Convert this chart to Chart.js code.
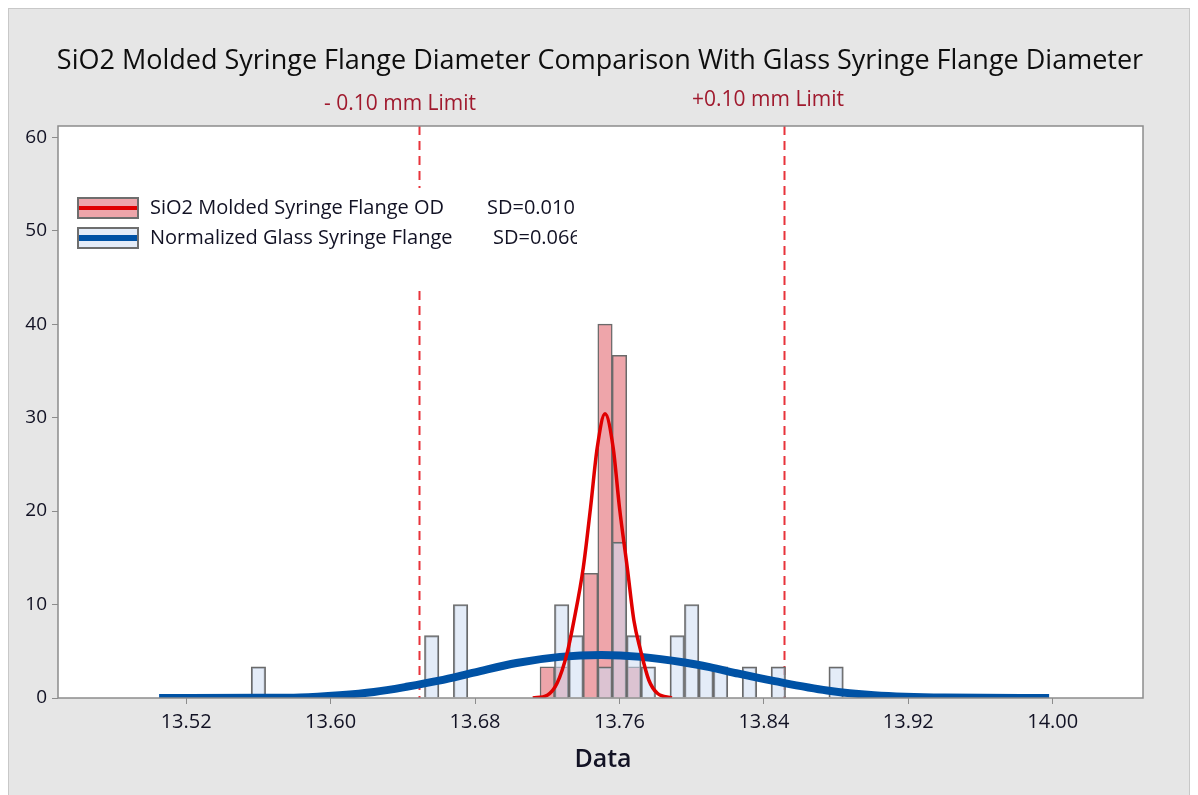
<!DOCTYPE html>
<html>
<head>
<meta charset="utf-8">
<script src="https://cdn.jsdelivr.net/npm/chart.js@4.4.1/dist/chart.umd.min.js"></script>
<style>
  html, body { margin: 0; padding: 0; background: #fff; }
  canvas { display: block; }
</style>
</head>
<body>
<canvas id="histChart" width="1198" height="795"></canvas>
<script>
// histogram bins (bin centres, width 0.008) and percent per bin
const sio2Bins = [13.720, 13.728, 13.744, 13.752, 13.760, 13.768];
const sio2Pct = [3.33, 3.33, 13.33, 40.0, 36.67, 3.33];

const glassBins = [13.560, 13.656, 13.672, 13.728, 13.736, 13.752, 13.760, 13.768,
                   13.776, 13.792, 13.800, 13.808, 13.816, 13.832, 13.848, 13.880];
const glassPct = [3.33, 6.67, 10.0, 10.0, 6.67, 3.33, 16.67, 6.67,
                  3.33, 6.67, 10.0, 3.33, 3.33, 3.33, 3.33, 3.33];

// fitted curves
const sio2FitX = [13.712, 13.720, 13.7255, 13.731, 13.7347, 13.740, 13.744, 13.7477, 13.752,
                  13.7565, 13.760, 13.7643, 13.768, 13.7717, 13.7763, 13.781, 13.789];
const sio2FitY = [0, 0.3, 1.6, 4.8, 8.2, 14.0, 20.4, 26.8, 30.4,
                  26.8, 20.4, 14.0, 8.3, 5.1, 1.9, 0.5, 0];

const glassFitX = [13.505, 13.560, 13.583, 13.605, 13.624, 13.642, 13.660, 13.680, 13.703,
                   13.727, 13.750, 13.772, 13.796, 13.810, 13.826, 13.846, 13.875, 13.901, 13.940, 13.998];
const glassFitY = [0, 0.02, 0.06, 0.3, 0.65, 1.2, 1.85, 2.75, 3.75,
                   4.4, 4.6, 4.4, 3.8, 3.3, 2.6, 1.8, 0.8, 0.3, 0.05, 0];

const limitX = [13.649, 13.851];
const limitLabels = ['- 0.10 mm Limit', '+0.10 mm Limit'];

const xTicks = [13.52, 13.60, 13.68, 13.76, 13.84, 13.92, 14.00];
const yTicks = [0, 10, 20, 30, 40, 50, 60];

const titleText = 'SiO2 Molded Syringe Flange Diameter Comparison With Glass Syringe Flange Diameter';
const legendNames = ['SiO2 Molded Syringe Flange OD', 'Normalized Glass Syringe Flange'];
const legendSD = ['SD=0.010', 'SD=0.066'];

const FONT = '"Open Sans", "Noto Sans", sans-serif';
const pinkFill = 'rgba(238,165,170,1)';
const glassFill = 'rgba(205,220,242,0.55)';
const redLine = '#e00000';
const blueLine = '#0052a5';
const limitRed = '#e8333b';
const labelRed = '#a01a2e';
const textDark = '#121224';

const pts = (xs, ys) => xs.map((x, i) => ({ x: x, y: ys[i] }));

const decor = {
    id: 'decor',
    beforeDraw(chart) {
        const ctx = chart.ctx;
        const a = chart.chartArea;
        ctx.save();
        ctx.fillStyle = '#ffffff';
        ctx.fillRect(0, 0, chart.width, chart.height);
        ctx.fillStyle = '#e6e6e6';
        ctx.fillRect(8, 8, 1182, 800);
        ctx.strokeStyle = '#c8c8c8';
        ctx.lineWidth = 1;
        ctx.strokeRect(8.5, 8.5, 1181, 800);
        ctx.fillStyle = '#ffffff';
        ctx.fillRect(a.left, a.top, a.right - a.left, a.bottom - a.top);
        ctx.restore();
    },
    beforeDatasetsDraw(chart) {
        const ctx = chart.ctx;
        const a = chart.chartArea;
        const xs = chart.scales.x;
        ctx.save();
        ctx.strokeStyle = limitRed;
        ctx.lineWidth = 2;
        ctx.setLineDash([9, 6]);
        limitX.forEach(v => {
            const px = Math.round(xs.getPixelForValue(v)) + 0.5;
            ctx.beginPath();
            ctx.moveTo(px, a.top);
            ctx.lineTo(px, a.bottom);
            ctx.stroke();
        });
        ctx.restore();
    },
    afterDatasetsDraw(chart) {
        const ctx = chart.ctx;
        const a = chart.chartArea;
        ctx.save();

        // legend box (white, hides the limit line behind it)
        ctx.fillStyle = '#ffffff';
        ctx.fillRect(70, 188, 510, 97);
        ctx.beginPath();
        ctx.rect(70, 188, 507, 97);
        ctx.clip();
        const rows = [
            { y: 208, fill: pinkFill, line: redLine, sdX: 487 },
            { y: 238, fill: 'rgb(228,236,248)', line: blueLine, sdX: 493 }
        ];
        rows.forEach((r, i) => {
            ctx.fillStyle = r.fill;
            ctx.fillRect(78, r.y - 10, 60, 20);
            ctx.strokeStyle = '#6e6e6e';
            ctx.lineWidth = 2;
            ctx.strokeRect(78, r.y - 10, 60, 20);
            ctx.fillStyle = r.line;
            ctx.fillRect(79, r.y - (i === 0 ? 2 : 3), 58, i === 0 ? 4 : 6);
            ctx.fillStyle = textDark;
            ctx.font = '20px ' + FONT;
            ctx.textBaseline = 'middle';
            ctx.textAlign = 'left';
            ctx.fillText(legendNames[i], 150, r.y);
            ctx.fillText(legendSD[i], r.sdX, r.y);
        });
        ctx.restore();

        // plot frame
        ctx.save();
        ctx.strokeStyle = '#8c8c8c';
        ctx.lineWidth = 1.5;
        ctx.strokeRect(a.left, a.top, a.right - a.left, a.bottom - a.top);

        // title and labels
        ctx.fillStyle = '#0e0e0e';
        ctx.font = '27px ' + FONT;
        ctx.textAlign = 'center';
        ctx.textBaseline = 'middle';
        ctx.fillText(titleText, 600, 61);

        ctx.fillStyle = labelRed;
        ctx.font = '21px ' + FONT;
        ctx.fillText(limitLabels[0], 400, 104);
        ctx.fillText(limitLabels[1], 768, 100);

        ctx.fillStyle = textDark;
        ctx.font = '600 25px ' + FONT;
        ctx.fillText('Data', 603, 760);
        ctx.restore();
    }
};

const ctx = document.getElementById('histChart').getContext('2d');
new Chart(ctx, {
    type: 'bar',
    data: {
        datasets: [
            {
                type: 'line',
                label: 'SiO2 fit',
                data: pts(sio2FitX, sio2FitY),
                borderColor: redLine,
                borderWidth: 3.5,
                pointRadius: 0,
                cubicInterpolationMode: 'monotone',
                order: 0
            },
            {
                type: 'line',
                label: 'Glass fit',
                data: pts(glassFitX, glassFitY),
                borderColor: blueLine,
                borderWidth: 8,
                pointRadius: 0,
                cubicInterpolationMode: 'monotone',
                order: 1
            },
            {
                label: legendNames[1],
                data: pts(glassBins, glassPct),
                backgroundColor: glassFill,
                borderColor: '#6a6a6a',
                borderWidth: 1.5,
                barPercentage: 1,
                categoryPercentage: 1,
                grouped: false,
                order: 2
            },
            {
                label: legendNames[0],
                data: pts(sio2Bins, sio2Pct),
                backgroundColor: pinkFill,
                borderColor: '#6a6a6a',
                borderWidth: 1.5,
                barPercentage: 1,
                categoryPercentage: 1,
                grouped: false,
                order: 3
            }
        ]
    },
    options: {
        responsive: false,
        animation: false,
        layout: { padding: { left: 8, right: 55, top: 126, bottom: 0 } },
        plugins: {
            legend: { display: false },
            title: { display: false },
            tooltip: { enabled: false }
        },
        scales: {
            x: {
                type: 'linear',
                offset: false,
                min: 13.449,
                max: 14.05,
                afterBuildTicks: s => { s.ticks = xTicks.map(v => ({ value: v })); },
                afterFit: s => { s.height = 97; },
                grid: { offset: false, drawOnChartArea: false, drawTicks: true, tickLength: 6, color: '#8c8c8c' },
                border: { display: false },
                ticks: {
                    padding: 6,
                    color: textDark,
                    font: { family: FONT, size: 20 },
                    maxRotation: 0,
                    callback: v => v.toFixed(2)
                }
            },
            y: {
                min: 0,
                max: 61.2,
                afterBuildTicks: s => { s.ticks = yTicks.map(v => ({ value: v })); },
                afterFit: s => { s.width = 50; },
                grid: { drawOnChartArea: false, drawTicks: true, tickLength: 6, color: '#8c8c8c' },
                border: { display: false },
                ticks: {
                    padding: 5,
                    color: textDark,
                    font: { family: FONT, size: 19 }
                }
            }
        }
    },
    plugins: [decor]
});
</script>
</body>
</html>
